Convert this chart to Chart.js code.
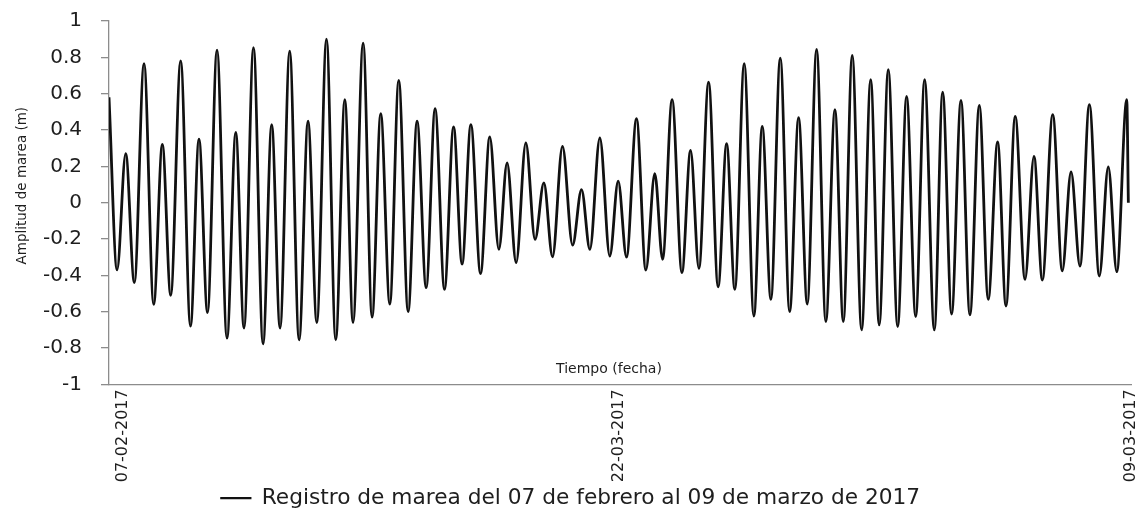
<!DOCTYPE html>
<html>
<head>
<meta charset="utf-8">
<script src="https://cdn.jsdelivr.net/npm/chart.js@4/dist/chart.umd.min.js"></script>
<style>
  html, body { margin: 0; padding: 0; background: #fff; }
  #wrap { width: 1144px; height: 510px; position: relative; }
</style>
</head>
<body>
<div id="wrap"><canvas id="tide-chart"></canvas></div>
<script>
// ── Data (turning points of the tide curve) ──
const horas = [
  0, 5.5, 11.4, 17.3, 23.9, 30.5, 36.4, 42.1, 48.9, 55.6,
  61.4, 67.2, 73.7, 80.5, 86.5, 92.1, 98.6, 105.1, 111.0, 116.7,
  123.3, 129.7, 135.8, 141.8, 148.4, 154.7, 160.9, 166.5, 173.4, 179.5,
  185.4, 191.6, 197.7, 204.1, 210.2, 216.4, 222.5, 228.9, 235.1, 240.9,
  246.9, 253.5, 259.8, 266.0, 271.6, 277.8, 284.4, 290.7, 296.7, 302.6,
  309.4, 316.3, 322.4, 328.1, 334.9, 341.7, 347.4, 353.1, 359.9, 366.3,
  372.4, 377.7, 384.2, 390.9, 396.8, 402.5, 409.1, 415.6, 421.4, 427.0,
  433.4, 440.0, 445.7, 451.6, 458.0, 464.4, 470.5, 476.4, 482.8, 489.1,
  495.3, 501.0, 507.1, 513.5, 519.7, 525.5, 531.7, 538.1, 544.2, 550.4,
  556.5, 563.1, 568.8, 574.9, 581.3, 587.4, 593.8, 599.9, 606.3, 612.0,
  618.3, 625.0, 631.1, 636.8, 643.9, 650.4, 656.4, 662.5, 668.9, 675.7,
  681.8, 687.6, 694.4, 695.5
];

const amplitud = [
  0.58, -0.37, 0.27, -0.44, 0.765, -0.56, 0.32, -0.51, 0.78, -0.68,
  0.35, -0.605, 0.84, -0.746, 0.387, -0.69, 0.853, -0.777, 0.43, -0.69,
  0.834, -0.755, 0.448, -0.66, 0.90, -0.755, 0.567, -0.66, 0.878, -0.63,
  0.49, -0.558, 0.673, -0.60, 0.448, -0.468, 0.517, -0.477, 0.417, -0.338,
  0.43, -0.39, 0.362, -0.257, 0.219, -0.33, 0.329, -0.202, 0.109, -0.298,
  0.31, -0.234, 0.072, -0.257, 0.356, -0.294, 0.118, -0.30, 0.462, -0.371,
  0.16, -0.312, 0.567, -0.385, 0.288, -0.362, 0.664, -0.463, 0.325, -0.477,
  0.765, -0.624, 0.42, -0.532, 0.796, -0.60, 0.468, -0.558, 0.843, -0.655,
  0.512, -0.655, 0.81, -0.70, 0.677, -0.673, 0.732, -0.682, 0.585, -0.627,
  0.677, -0.70, 0.609, -0.613, 0.563, -0.618, 0.536, -0.532, 0.334, -0.569,
  0.475, -0.422, 0.255, -0.426, 0.485, -0.375, 0.169, -0.349, 0.54, -0.404,
  0.197, -0.38, 0.567, 0.0
];

// x-axis date labels and where they sit (hours from start of record)
const fechaLabels = ["07-02-2017", "22-03-2017", "09-03-2017"];
const fechaHoras  = [9.6, 348.1, 697.3];

const yTicks = [1, 0.8, 0.6, 0.4, 0.2, 0, -0.2, -0.4, -0.6, -0.8, -1];

const serieNombre = "Registro de marea del 07 de febrero al 09 de marzo de 2017";

// ── Colours ───────────────────────────────────────────────
const LINE_CLR = "#111111";
const AXIS_CLR = "#8c8c8c";
const TEXT_CLR = "#1e1e1e";

// Axis titles: "Tiempo (fecha)" sits inside the plot above the x axis,
// the y title is a bit above the middle of the axis
const axisTitles = {
  id: "axisTitles",
  afterDraw(chart) {
    const { ctx, chartArea } = chart;
    ctx.save();
    ctx.fillStyle = TEXT_CLR;
    ctx.textAlign = "center";
    ctx.textBaseline = "middle";

    ctx.font = "14px 'DejaVu Sans'";
    ctx.fillText("Tiempo (fecha)", (chartArea.left + chartArea.right) / 2 - 11, chartArea.bottom - 15);

    ctx.translate(22, (chartArea.top + chartArea.bottom) / 2 - 17);
    ctx.rotate(-Math.PI / 2);
    ctx.font = "13.5px 'DejaVu Sans'";
    ctx.fillText("Amplitud de marea (m)", 0, 0);
    ctx.restore();
  },
};

new Chart(document.getElementById("tide-chart"), {
  type: "line",
  data: {
    datasets: [{
      label: serieNombre,
      data: horas.map((h, i) => ({ x: h, y: amplitud[i] })),
      borderColor: LINE_CLR,
      backgroundColor: LINE_CLR,
      borderWidth: 2.8,
      pointRadius: 0,
      cubicInterpolationMode: "monotone",
      fill: false,
    }],
  },
  options: {
    responsive: true,
    maintainAspectRatio: false,
    animation: false,
    layout: { padding: { left: 10, top: 21, right: 13, bottom: -9 } },
    scales: {
      x: {
        type: "linear",
        min: 0,
        max: 697.3,
        afterBuildTicks: axis => { axis.ticks = fechaHoras.map(v => ({ value: v })); },
        afterFit: axis => {
          axis.height = 103;
          axis.paddingLeft = 0;
          axis.paddingRight = 0;
        },
        ticks: {
          autoSkip: false,
          maxRotation: 90,
          minRotation: 90,
          padding: 5,
          color: TEXT_CLR,
          font: { family: "'DejaVu Sans'", size: 16 },
          callback: (v, i) => fechaLabels[i],
        },
        grid: { display: false, drawTicks: false },
        border: { display: true, color: AXIS_CLR, width: 1.3 },
      },
      y: {
        min: -1,
        max: 1,
        afterBuildTicks: axis => { axis.ticks = yTicks.map(v => ({ value: v })); },
        afterFit: axis => {
          axis.width = 99;
          axis.paddingTop = 0;
          axis.paddingBottom = 0;
        },
        ticks: {
          padding: 19,
          color: TEXT_CLR,
          font: { family: "'DejaVu Sans'", size: 20 },
          callback: v => String(Math.round(v * 10) / 10),
        },
        grid: { drawOnChartArea: false, drawTicks: true, tickLength: 8, color: AXIS_CLR, lineWidth: 1.3 },
        border: { display: true, color: AXIS_CLR, width: 1.3 },
      },
    },
    plugins: {
      legend: {
        position: "bottom",
        labels: {
          boxWidth: 30,
          boxHeight: 1,
          padding: 0,
          color: TEXT_CLR,
          font: { family: "'DejaVu Sans'", size: 21.7 },
          generateLabels: chart => Chart.defaults.plugins.legend.labels.generateLabels(chart)
            .map(item => ({ ...item, lineWidth: 1.2 })),
        },
      },
      tooltip: { enabled: false },
    },
  },
  plugins: [axisTitles],
});
</script>
</body>
</html>
